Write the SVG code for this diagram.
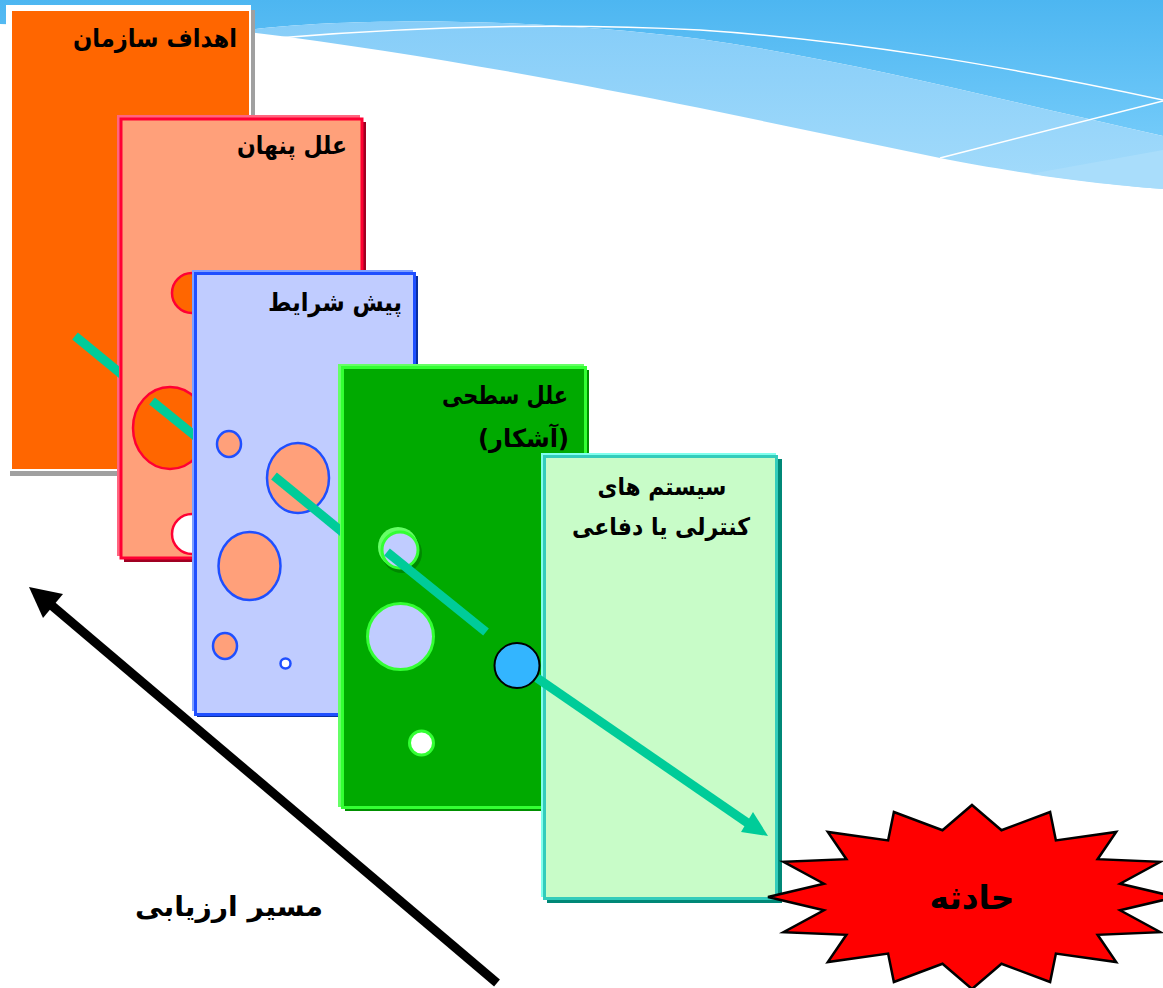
<svg xmlns="http://www.w3.org/2000/svg" width="1163" height="988" viewBox="0 0 1163 988">
<defs>
<style>
.lbl{font-family:"DejaVu Sans","Noto Sans",sans-serif;font-weight:bold;fill:#000;}
.seg{stroke:#00cc99;stroke-width:9;fill:none;stroke-linecap:butt;}
.c2{stroke:#ff0033;stroke-width:2.5;}
.c3{stroke:#1f4fff;stroke-width:2.5;}
.c4{stroke:#33ff33;stroke-width:3;}
</style>
<linearGradient id="gDark" x1="0" y1="0" x2="0" y2="1">
<stop offset="0" stop-color="#4db6f1"/>
<stop offset="1" stop-color="#72caf9"/>
</linearGradient>
<linearGradient id="gLight" x1="0" y1="0" x2="0" y2="1">
<stop offset="0" stop-color="#86cdf8"/>
<stop offset="1" stop-color="#a3dbfb"/>
</linearGradient>
<clipPath id="k1"><rect x="0" y="0" width="119" height="988"/></clipPath>
<clipPath id="k2"><rect x="0" y="0" width="193" height="988"/></clipPath>
<clipPath id="k3"><rect x="0" y="0" width="340" height="988"/></clipPath>
</defs>
<rect width="1163" height="988" fill="#fff"/>
<g id="background">
<path d="M0,0 H1163 V136 C1000,100 850,60 700,39 C520,16 330,18 240,31 L0,24 Z" fill="url(#gDark)"/>
<path d="M240,31 C330,18 520,16 700,39 C850,60 1000,100 1163,136 V189 C1080,182 1000,170 940,158 L700,108 C560,80 400,50 240,31 Z" fill="url(#gLight)"/>
<path d="M1030,174 L1163,150 V189 C1110,185 1070,180 1030,174 Z" fill="#a9ddfb"/>
<path d="M277,38 C400,28 550,22 700,30 C850,40 1000,65 1163,100" fill="none" stroke="#fff" stroke-width="1.5"/>
<path d="M940,158 L1163,101" fill="none" stroke="#fff" stroke-width="1.5"/>
</g>
<g id="panel1">
<rect x="10" y="10" width="245" height="466" fill="#a0a0a0"/>
<rect x="6" y="5" width="245" height="466" fill="#fff"/>
<rect x="12" y="11" width="237" height="458" fill="#ff6600"/>
<text class="lbl" x="237" y="47" font-size="25" text-anchor="end" textLength="164" lengthAdjust="spacingAndGlyphs">اهداف سازمان</text>
</g>
<g id="panel2">
<rect x="124" y="122" width="242" height="440" fill="#a00022"/>
<rect x="117" y="115" width="243" height="441" fill="#ff6680"/>
<rect x="121" y="119" width="241" height="439" fill="#ffa07a" stroke="#ff0033" stroke-width="3"/>
<circle class="c2" cx="192" cy="293" r="20" fill="#ff6600"/>
<ellipse class="c2" cx="170" cy="428" rx="37" ry="41" fill="#ff6600"/>
<circle class="c2" cx="192" cy="534" r="20" fill="#fff"/>
<text class="lbl" x="347" y="154" font-size="25" text-anchor="end" textLength="110" lengthAdjust="spacingAndGlyphs">علل پنهان</text>
</g>
<g id="panel3">
<rect x="197" y="276" width="221" height="441" fill="#0a2ea0"/>
<rect x="192" y="270" width="221" height="441" fill="#7fa0ff"/>
<rect x="195.5" y="273.5" width="219" height="441" fill="#c0ccff" stroke="#1f4fff" stroke-width="3"/>
<ellipse class="c3" cx="229" cy="444" rx="12" ry="13" fill="#ffa07a"/>
<ellipse class="c3" cx="298" cy="478" rx="31" ry="35" fill="#ffa07a"/>
<ellipse class="c3" cx="249.5" cy="566" rx="31" ry="34" fill="#ffa07a"/>
<ellipse class="c3" cx="225" cy="646" rx="12" ry="13" fill="#ffa07a"/>
<circle class="c3" cx="285.5" cy="663.5" r="5" fill="#fff"/>
<text class="lbl" x="402" y="311" font-size="25" text-anchor="end" textLength="134" lengthAdjust="spacingAndGlyphs">پیش شرایط</text>
</g>
<g id="panel4">
<rect x="345" y="370" width="244" height="441" fill="#009000"/>
<rect x="338" y="364" width="246" height="443" fill="#66ff66"/>
<rect x="342.5" y="367.5" width="243" height="440" fill="#00aa00" stroke="#33ff33" stroke-width="3"/>
<circle cx="402" cy="553" r="20" fill="#008800"/>
<circle cx="398" cy="547" r="20" fill="#66ff66"/>
<circle class="c4" cx="400" cy="550" r="18" fill="#c0ccff"/>
<circle class="c4" cx="400.5" cy="636.5" r="33" fill="#c0ccff"/>
<circle class="c4" cx="421.5" cy="743" r="12" fill="#fff"/>
<circle cx="517" cy="665.5" r="22.5" fill="#33b5ff" stroke="#000" stroke-width="2"/>
<text class="lbl" x="568" y="404" font-size="25" text-anchor="end" textLength="126" lengthAdjust="spacingAndGlyphs">علل سطحی</text>
<text class="lbl" x="569" y="447" font-size="25" text-anchor="end" textLength="91" lengthAdjust="spacingAndGlyphs">(آشکار)</text>
</g>
<g id="panel5">
<rect x="547" y="459" width="235" height="444" fill="#008877"/>
<rect x="541" y="453" width="235" height="444" fill="#80ffee"/>
<rect x="544.5" y="456.5" width="232" height="442" fill="#c8fcc8" stroke="#33ccbb" stroke-width="3"/>
<text class="lbl" x="662" y="495" font-size="24" text-anchor="middle" textLength="129" lengthAdjust="spacingAndGlyphs">سیستم های</text>
<text class="lbl" x="661" y="535" font-size="24" text-anchor="middle" textLength="178" lengthAdjust="spacingAndGlyphs">کنترلی یا دفاعی</text>
</g>
<g id="incident">
<polygon id="star" fill="#ff0000" stroke="#000" stroke-width="2.5" stroke-linejoin="miter" points="972,805 1001.5,830.2 1050.1,812 1055.9,840.4 1116.2,832 1097.6,859.2 1160.5,861.8 1120.1,883.7 1176,897 1120.1,910.3 1160.5,932.2 1097.6,934.8 1116.2,962 1055.9,953.6 1050.1,982 1001.5,963.8 972,989 942.5,963.8 893.9,982 888.1,953.6 827.8,962 846.4,934.8 783.5,932.2 823.9,910.3 768,897 823.9,883.7 783.5,861.8 846.4,859.2 827.8,832 888.1,840.4 893.9,812 942.5,830.2"/>
<text class="lbl" x="972" y="909" font-size="33" text-anchor="middle" textLength="85" lengthAdjust="spacingAndGlyphs">حادثه</text>
</g>
<g id="connectors">
<line class="seg" x1="75" y1="336" x2="125" y2="377" clip-path="url(#k1)"/>
<line class="seg" x1="152" y1="401" x2="200" y2="440" clip-path="url(#k2)"/>
<line class="seg" x1="274" y1="476" x2="346" y2="535" clip-path="url(#k3)"/>
<line class="seg" x1="387" y1="552" x2="486" y2="632"/>
<line class="seg" x1="537" y1="678" x2="752" y2="826" stroke-width="8.5"/>
<polygon points="768,836 753,812 741,832" fill="#00cc99"/>
<line x1="497" y1="983" x2="50" y2="604" stroke="#000" stroke-width="9"/>
<polygon points="29,587 63,594 43,618" fill="#000"/>
</g>
<g id="path-label">
<text class="lbl" x="229" y="916" font-size="27" text-anchor="middle" textLength="188" lengthAdjust="spacingAndGlyphs">مسیر ارزیابی</text>
</g>
</svg>
